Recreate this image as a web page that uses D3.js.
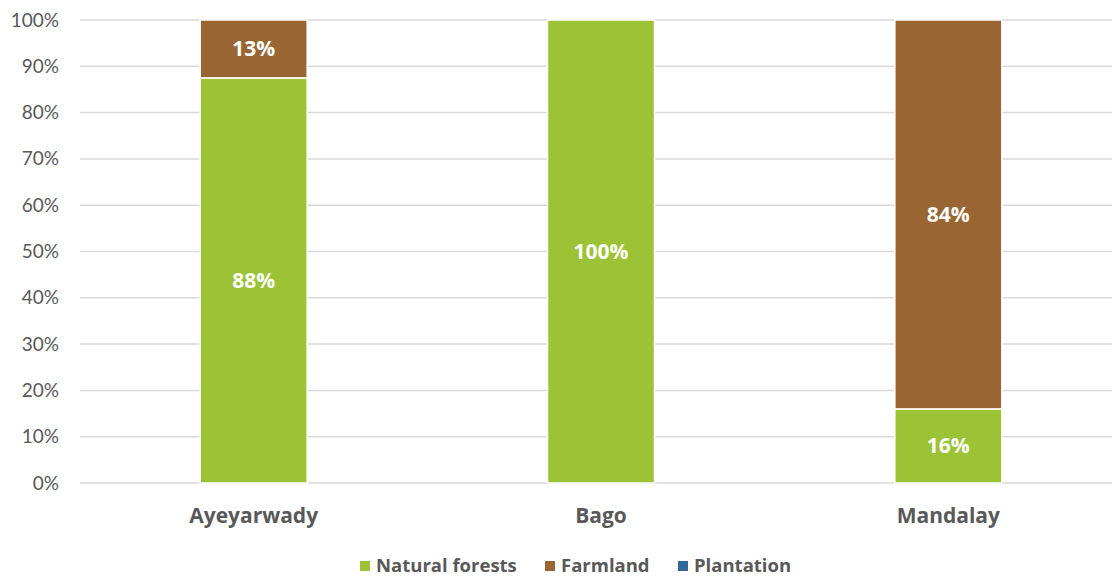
<!DOCTYPE html>
<html>
<head>
<meta charset="utf-8">
<script src="https://cdn.jsdelivr.net/npm/d3@7"></script>
<style>
  html, body { margin: 0; padding: 0; background: #fff; }
  svg { display: block; font-family: "Open Sans", Lato, "Liberation Sans", sans-serif; }
</style>
</head>
<body>
<svg id="chart" width="1112" height="576"></svg>
<script>
// Regions shown on the x axis
const regions = ["Ayeyarwady", "Bago", "Mandalay"];
// Share of each land-use type per region (percent)
const naturalForests = [87.5, 100, 16];
const farmland = [12.5, 0, 84];
const plantation = [0, 0, 0];
const seriesNames = ["Natural forests", "Farmland", "Plantation"];
const seriesColors = ["#9bc335", "#996633", "#336699"];
const yTicks = [0, 10, 20, 30, 40, 50, 60, 70, 80, 90, 100];

const svg = d3.select("#chart");
const plot = { left: 80, right: 1122, top: 20, bottom: 483 };

const x = d3.scaleBand().domain(regions).range([plot.left, plot.right]).paddingInner(0.692).paddingOuter(0.346);
const y = d3.scaleLinear().domain([0, 100]).range([plot.bottom, plot.top]);

// Horizontal gridlines
svg.append("g").selectAll("line").data(yTicks).join("line")
  .attr("x1", plot.left).attr("x2", 1112)
  .attr("y1", d => y(d)).attr("y2", d => y(d))
  .attr("stroke", "#d9d9d9").attr("stroke-width", 1.5);

// Y axis labels
const yAxis = d3.axisLeft(y).tickValues(yTicks).tickFormat(d => d + "%").tickSize(0).tickPadding(0);
const yg = svg.append("g").attr("transform", `translate(59,0)`).call(yAxis);
yg.select(".domain").remove();
yg.selectAll("text").attr("fill", "#595959").style("font-size", "19px").style("font-family", "Lato, 'Open Sans', sans-serif");

// Stack the series
const rows = regions.map((r, i) => ({
  region: r,
  "Natural forests": naturalForests[i],
  "Farmland": farmland[i],
  "Plantation": plantation[i]
}));
const stacked = d3.stack().keys(seriesNames)(rows);

const layers = svg.append("g").selectAll("g").data(stacked).join("g")
  .attr("fill", (d, i) => seriesColors[i]);

layers.selectAll("rect").data(d => d.filter(s => s[1] - s[0] > 0)).join("rect")
  .attr("x", d => x(d.data.region))
  .attr("width", x.bandwidth())
  .attr("y", d => y(d[1]))
  .attr("height", d => y(d[0]) - y(d[1]))
  .attr("stroke", "#fff").attr("stroke-width", 1.5);

// Value labels inside segments
layers.selectAll("text").data(d => d.filter(s => s[1] - s[0] > 0)).join("text")
  .attr("x", d => x(d.data.region) + x.bandwidth() / 2)
  .attr("y", d => (y(d[0]) + y(d[1])) / 2)
  .attr("dy", "0.35em")
  .attr("text-anchor", "middle")
  .attr("fill", "#fff")
  .style("font-weight", "bold").style("font-size", "21px")
  .text(d => Math.round(d[1] - d[0]) + "%");

// Category labels
svg.append("g").selectAll("text").data(regions).join("text")
  .attr("x", d => x(d) + x.bandwidth() / 2)
  .attr("y", 516).attr("dy", "0.35em")
  .attr("text-anchor", "middle").attr("fill", "#595959")
  .style("font-weight", "bold").style("font-size", "21px")
  .text(d => d);

// Legend
const legendX = [360, 545, 678];
const lg = svg.append("g").selectAll("g").data(seriesNames).join("g")
  .attr("transform", (d, i) => `translate(${legendX[i]},566)`);
lg.append("rect").attr("x", 0).attr("y", -5).attr("width", 10).attr("height", 10)
  .attr("fill", (d, i) => seriesColors[i]);
lg.append("text").attr("x", 16).attr("dy", "0.35em").attr("fill", "#595959")
  .style("font-weight", "bold").style("font-size", "18.5px")
  .text(d => d);
</script>
</body>
</html>
